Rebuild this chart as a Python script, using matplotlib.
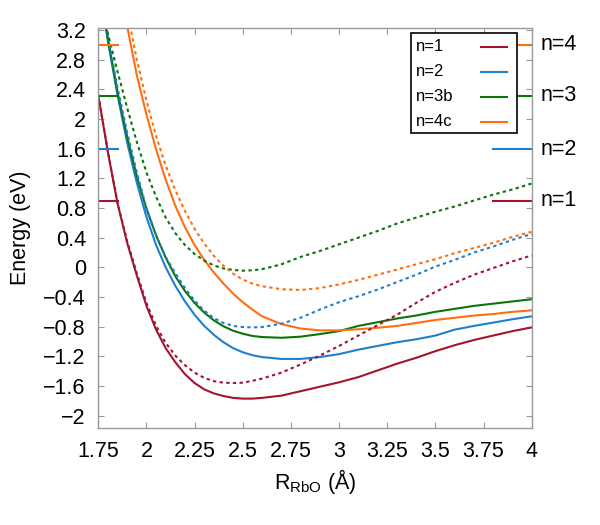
import numpy as np
import matplotlib
matplotlib.use("Agg")
import matplotlib.pyplot as plt
import matplotlib.transforms as mtransforms
from matplotlib.patches import Rectangle

plt.rcParams["font.family"] = ["Liberation Sans", "DejaVu Sans"]
plt.rcParams["mathtext.fontset"] = "custom"
plt.rcParams["mathtext.rm"] = "Liberation Sans"

# R_RbO grid (Angstrom)
R = [1.75, 1.80, 1.85, 1.90, 1.95, 2.00, 2.05, 2.10, 2.15, 2.20, 2.25, 2.30,
     2.35, 2.40, 2.45, 2.50, 2.55, 2.60, 2.70, 2.80, 2.90, 3.00, 3.10, 3.20,
     3.30, 3.40, 3.50, 3.60, 3.70, 3.80, 3.90, 4.00]
nan = np.nan

# solid curves
E_n1 = [2.32, 1.55, 0.86, 0.33, -0.11, -0.52, -0.84, -1.09, -1.28, -1.44, -1.56, -1.645,
        -1.70, -1.735, -1.76, -1.77, -1.77, -1.76, -1.73, -1.67, -1.61, -1.55, -1.48, -1.39,
        -1.30, -1.22, -1.13, -1.05, -0.98, -0.92, -0.86, -0.81]
E_n2 = [3.85, 3.05, 2.32, 1.68, 1.14, 0.68, 0.30, 0.00, -0.25, -0.46, -0.64, -0.79,
        -0.91, -1.01, -1.09, -1.145, -1.185, -1.21, -1.235, -1.235, -1.21, -1.17, -1.11, -1.06,
        -1.01, -0.97, -0.92, -0.84, -0.79, -0.745, -0.70, -0.66]
E_n3b = [3.95, 3.08, 2.36, 1.76, 1.23, 0.79, 0.43, 0.13, -0.12, -0.32, -0.48, -0.61,
         -0.715, -0.795, -0.855, -0.895, -0.925, -0.94, -0.95, -0.935, -0.90, -0.86, -0.79, -0.74,
         -0.69, -0.65, -0.60, -0.56, -0.52, -0.49, -0.46, -0.43]
E_n4c = [nan, nan, 3.95, 3.25, 2.59, 2.06, 1.59, 1.18, 0.83, 0.54, 0.30, 0.10,
         -0.07, -0.22, -0.355, -0.47, -0.57, -0.66, -0.765, -0.825, -0.85, -0.85, -0.835, -0.815,
         -0.79, -0.75, -0.71, -0.68, -0.65, -0.63, -0.60, -0.58]

# dotted curves
D_n1 = [2.32, 1.56, 0.87, 0.35, -0.08, -0.48, -0.79, -1.02, -1.19, -1.32, -1.42, -1.49,
        -1.535, -1.555, -1.56, -1.555, -1.53, -1.50, -1.42, -1.31, -1.19, -1.06, -0.92, -0.78,
        -0.64, -0.48, -0.33, -0.21, -0.10, -0.01, 0.08, 0.16]
D_n2 = [4.0, 3.12, 2.42, 1.82, 1.28, 0.80, 0.43, 0.14, -0.08, -0.28, -0.45, -0.585,
        -0.685, -0.75, -0.79, -0.805, -0.81, -0.805, -0.76, -0.68, -0.57, -0.47, -0.39, -0.30,
        -0.20, -0.10, 0.01, 0.10, 0.20, 0.28, 0.37, 0.45]
D_n3b = [3.65, 3.15, 2.64, 2.15, 1.69, 1.28, 0.95, 0.67, 0.46, 0.30, 0.18, 0.09,
         0.025, -0.015, -0.035, -0.045, -0.04, -0.025, 0.04, 0.14, 0.22, 0.31, 0.40, 0.49,
         0.59, 0.67, 0.75, 0.82, 0.90, 0.98, 1.05, 1.13]
D_n4c = [nan, nan, 4.0, 3.45, 2.80, 2.25, 1.77, 1.37, 1.04, 0.76, 0.52, 0.32,
         0.155, 0.02, -0.085, -0.165, -0.22, -0.255, -0.295, -0.305, -0.28, -0.23, -0.17, -0.10,
         -0.03, 0.04, 0.11, 0.19, 0.26, 0.33, 0.41, 0.48]

labels = ["n=1", "n=2", "n=3b", "n=4c"]
side_labels = ["n=1", "n=2", "n=3", "n=4"]
levels = [0.90, 1.59, 2.31, 3.00]
colors = ["#a2142f", "#1f7fcf", "#0b740b", "#ff6e10"]

solid = [E_n1, E_n2, E_n3b, E_n4c]
dotted = [D_n1, D_n2, D_n3b, D_n4c]

fig = plt.figure(figsize=(6, 5.25), dpi=100)
ax = fig.add_axes([0.1638, 0.1842, 0.7224, 0.763])

for ys, c in zip(solid, colors):
    ax.plot(R, ys, color=c, lw=1.5)
for ys, c in zip(dotted, colors):
    ax.plot(R, ys, color=c, lw=1.5, linestyle=(0, (1.6, 1.6)))

for lev, c in zip(levels, colors):
    ax.plot([1.75, 1.85], [lev, lev], color=c, lw=1.5)
    ax.plot([3.8, 4.0], [lev, lev], color=c, lw=1.5)

trans = mtransforms.blended_transform_factory(ax.transAxes, ax.transData)
for lev, s in zip(levels, side_labels):
    ax.text(1.021, lev, s, transform=trans, fontsize=15.5, va="center", ha="left")

# legend box drawn by hand: text on the left, line sample on the right
ax.add_patch(Rectangle((0.7215, 0.7371), 0.2446, 0.2497, transform=ax.transAxes,
                       facecolor="white", edgecolor="black", lw=1.2, zorder=5))
row_y = [0.9526, 0.8902, 0.8278, 0.7654]
for yy, lab, c in zip(row_y, labels, colors):
    ax.text(0.733, yy, lab, transform=ax.transAxes, fontsize=12, va="center",
            ha="left", zorder=6)
    ax.plot([0.8823, 0.9437], [yy, yy], transform=ax.transAxes, color=c, lw=1.5,
            zorder=6)

ax.set_xlim(1.75, 4.0)
ax.set_ylim(-2.17, 3.23)
xt = [1.75, 2, 2.25, 2.5, 2.75, 3, 3.25, 3.5, 3.75, 4]
ax.set_xticks(xt)
ax.set_xticklabels([f"{v:g}" for v in xt])
yt = np.round(np.arange(-2.0, 3.21, 0.4), 2) + 0.0
ax.set_yticks(yt)
ax.set_yticklabels([f"{v:g}".replace("-", "\u2212") for v in yt])

ax.tick_params(direction="in", top=True, right=True, length=4, width=0.8,
               color="#999999", labelsize=15.5, pad=9)
for sp in ax.spines.values():
    sp.set_color("#999999")
    sp.set_linewidth(1.0)

ax.set_xlabel("R$_\\mathrm{RbO}$ (Å)", fontsize=15.5)
ax.set_ylabel("Energy (eV)", fontsize=15.5)
ax.yaxis.set_label_coords(-0.155, 0.5)

fig.savefig("out.png", dpi=100)
